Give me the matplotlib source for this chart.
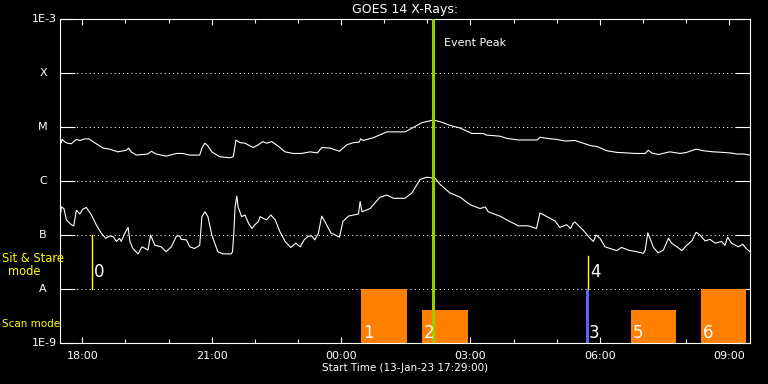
import numpy as np
import matplotlib
matplotlib.use('Agg')
import matplotlib.pyplot as plt
from matplotlib.ticker import NullLocator

# start time 13-Jan-23 17:29:00, time in hours since start
start_h = 17 + 29 / 60.

# long channel (upper curve): hours since start, log10 flux
t_hi = [0.02, 0.05, 0.12, 0.17, 0.26, 0.38, 0.46, 0.57, 0.67, 0.80, 1.00, 1.15, 1.34, 1.54, 1.59,
        1.65, 1.77, 2.04, 2.12, 2.23, 2.46, 2.70, 2.85, 3.01, 3.24, 3.29, 3.36, 3.43, 3.52, 3.70,
        3.94, 4.02, 4.08, 4.17, 4.29, 4.48, 4.60, 4.70, 4.79, 4.91, 5.02, 5.22, 5.41, 5.60, 5.80,
        5.97, 6.07, 6.26, 6.48, 6.65, 6.80, 6.94, 6.97, 7.03, 7.26, 7.58, 8.00, 8.12, 8.39, 8.66,
        8.85, 9.04, 9.28, 9.55, 9.82, 9.89, 10.20, 10.36, 10.63, 11.07, 11.13, 11.29, 11.52, 11.71,
        11.94, 12.13, 12.33, 12.45, 12.68, 12.91, 13.14, 13.33, 13.57, 13.64, 13.72, 13.87, 14.14,
        14.38, 14.53, 14.75, 14.92, 15.15, 15.38, 15.54, 15.69, 15.85, 16.00]
log_hi = [-5.30, -5.23, -5.28, -5.30, -5.31, -5.23, -5.25, -5.22, -5.22, -5.29, -5.39, -5.41, -5.46,
          -5.43, -5.39, -5.46, -5.52, -5.50, -5.45, -5.50, -5.54, -5.49, -5.49, -5.52, -5.52, -5.39,
          -5.30, -5.35, -5.46, -5.55, -5.57, -5.55, -5.24, -5.29, -5.30, -5.38, -5.33, -5.27, -5.30,
          -5.27, -5.33, -5.46, -5.49, -5.49, -5.46, -5.48, -5.38, -5.39, -5.45, -5.33, -5.29, -5.28,
          -5.22, -5.25, -5.20, -5.09, -5.09, -5.04, -4.92, -4.87, -4.91, -4.97, -5.02, -5.12, -5.12,
          -5.15, -5.17, -5.21, -5.24, -5.24, -5.19, -5.21, -5.23, -5.26, -5.25, -5.30, -5.35, -5.36,
          -5.44, -5.47, -5.48, -5.49, -5.49, -5.43, -5.48, -5.51, -5.46, -5.49, -5.47, -5.41, -5.44,
          -5.46, -5.47, -5.48, -5.50, -5.50, -5.52]

# short channel (lower curve)
t_lo = [0.02, 0.03, 0.09, 0.15, 0.26, 0.32, 0.38, 0.46, 0.53, 0.61, 0.73, 0.84, 0.96, 1.06, 1.15,
        1.23, 1.31, 1.38, 1.42, 1.50, 1.58, 1.62, 1.69, 1.81, 1.90, 1.98, 2.04, 2.10, 2.20, 2.35,
        2.46, 2.58, 2.70, 2.78, 2.81, 2.93, 3.01, 3.12, 3.24, 3.29, 3.36, 3.43, 3.52, 3.66, 3.78,
        3.97, 4.00, 4.03, 4.06, 4.10, 4.13, 4.21, 4.29, 4.37, 4.45, 4.52, 4.60, 4.64, 4.71, 4.79,
        4.89, 4.99, 5.10, 5.22, 5.35, 5.47, 5.57, 5.66, 5.76, 5.84, 5.91, 5.99, 6.07, 6.18, 6.28,
        6.38, 6.48, 6.56, 6.69, 6.92, 6.96, 7.00, 7.19, 7.42, 7.58, 7.73, 8.00, 8.16, 8.35, 8.50,
        8.70, 8.81, 9.04, 9.28, 9.51, 9.74, 9.86, 9.93, 10.20, 10.43, 10.63, 10.86, 11.05, 11.13,
        11.29, 11.48, 11.59, 11.75, 11.84, 11.90, 11.94, 12.13, 12.29, 12.37, 12.43, 12.52, 12.64,
        12.79, 12.91, 13.02, 13.18, 13.37, 13.53, 13.57, 13.63, 13.68, 13.76, 13.87, 13.99, 14.11,
        14.18, 14.31, 14.42, 14.52, 14.65, 14.75, 14.84, 14.96, 15.07, 15.19, 15.34, 15.42, 15.48,
        15.57, 15.73, 15.83, 15.91, 16.00]
log_lo = [-6.57, -6.48, -6.51, -6.72, -6.81, -6.83, -6.54, -6.61, -6.52, -6.49, -6.63, -6.81, -6.97,
          -7.06, -7.02, -7.03, -7.12, -7.06, -7.12, -6.97, -6.86, -7.12, -7.25, -7.35, -7.22, -7.25,
          -7.28, -7.00, -7.19, -7.22, -7.31, -7.22, -7.02, -7.02, -7.08, -7.09, -7.22, -7.25, -7.19,
          -6.66, -6.57, -6.66, -7.00, -7.31, -7.35, -7.35, -7.31, -6.97, -6.48, -6.28, -6.48, -6.66,
          -6.63, -6.78, -6.88, -6.81, -6.75, -6.66, -6.69, -6.72, -6.63, -6.72, -6.94, -7.12, -7.23,
          -7.15, -7.22, -7.09, -7.02, -7.02, -7.09, -6.97, -6.65, -6.81, -6.96, -7.00, -7.04, -6.75,
          -6.65, -6.61, -6.38, -6.57, -6.51, -6.30, -6.26, -6.32, -6.32, -6.22, -5.97, -5.93, -5.95,
          -6.06, -6.22, -6.30, -6.44, -6.51, -6.48, -6.57, -6.65, -6.75, -6.83, -6.83, -6.88, -6.59,
          -6.66, -6.74, -6.86, -6.81, -6.88, -6.78, -6.76, -6.91, -7.06, -7.12, -7.00, -7.06, -7.22,
          -7.26, -7.29, -7.23, -7.28, -7.31, -7.34, -7.28, -6.96, -7.06, -7.23, -7.33, -7.28, -7.06,
          -7.15, -7.22, -7.29, -7.20, -7.11, -6.95, -7.00, -7.11, -7.08, -7.15, -7.12, -7.19, -7.04,
          -7.15, -7.22, -7.17, -7.25, -7.31]

event_peak = 8.65

# observation modes: label, start, end, top flux, colour
mode_id = ['1', '2', '3', '5', '6']
mode_t0 = [6.98, 8.39, 12.20, 13.24, 14.86]
mode_t1 = [8.05, 9.46, 12.27, 14.28, 15.91]
mode_top = [1e-8, 4e-9, 1e-8, 4e-9, 1e-8]
mode_col = ['#ff8000', '#ff8000', '#6060ff', '#ff8000', '#ff8000']
sit_id = ['0', '4']
sit_t = [0.74, 12.24]
sit_top = [1e-7, 4e-8]

levels = [1e-9, 1e-8, 1e-7, 1e-6, 1e-5, 1e-4, 1e-3]
level_lab = ['1E-9', 'A', 'B', 'C', 'M', 'X', '1E-3']

plt.rcParams['font.family'] = ['DejaVu Sans']
fig = plt.figure(figsize=(7.68, 3.84), dpi=100, facecolor='black')
ax = fig.add_axes([60/768., 41/384., 690/768., 324/384.], facecolor='black')
ax.set_yscale('log')
ax.set_xlim(0, 16)
ax.set_ylim(1e-9, 1e-3)

# dotted level lines
for lv in levels[1:-1]:
    ax.axhline(lv, color='white', lw=0.75, linestyle=(0, (1, 3)), zorder=1)

ax.plot(t_hi, 10 ** np.array(log_hi), color='white', lw=0.8, zorder=3)
ax.plot(t_lo, 10 ** np.array(log_lo), color='white', lw=0.8, zorder=3)

for i in range(len(mode_id)):
    ax.fill_between([mode_t0[i], mode_t1[i]], 1e-9, mode_top[i], color=mode_col[i], lw=0, zorder=2)
    ax.text(mode_t0[i] + 0.05, 1.5e-9, mode_id[i], color='white', fontsize=12, va='center', ha='left', zorder=5)
for i in range(len(sit_id)):
    ax.plot([sit_t[i], sit_t[i]], [1e-8, sit_top[i]], color='#ffff00', lw=1.0, zorder=4)
    ax.text(sit_t[i] + 0.05, 2.07e-8, sit_id[i], color='white', fontsize=12, va='center', ha='left', zorder=5)

ax.axvline(event_peak, color='#99cc00', lw=2.2, zorder=4)
ax.text(event_peak + 0.25, 10 ** -3.44, 'Event Peak', color='white', fontsize=8, va='center', ha='left')

# ticks
first = 18 - start_h
hours = np.arange(16)
ax.set_xticks(first + hours[::3])
ax.set_xticks(first + hours, minor=True)
ax.set_xticklabels(['%02d:00' % ((18 + h) % 24) for h in hours[::3]])
ax.set_yticks(levels)
ax.set_yticklabels([])
ax.yaxis.set_minor_locator(NullLocator())
ax.tick_params(axis='x', which='major', direction='in', length=4.3, width=0.8, top=True,
               colors='white', labelsize=8, pad=6)
ax.tick_params(axis='x', which='minor', direction='in', length=2.9, width=0.8, top=True, colors='white')
ax.tick_params(axis='y', which='major', direction='in', length=10.5, width=0.8, right=True, colors='white')
for s in ax.spines.values():
    s.set_color('white')
    s.set_linewidth(0.8)

tr = ax.get_yaxis_transform()
for lv, lab in zip(levels, level_lab):
    if lab.startswith('1E'):
        ax.text(-0.0045, lv, lab, transform=tr, color='white', fontsize=8, ha='right', va='center')
    else:
        ax.text(-0.0246, lv, lab, transform=tr, color='white', fontsize=8, ha='center', va='center')

ax.text(-0.084, 10 ** -7.444, 'Sit & Stare', transform=tr, color='#ffff00', fontsize=8.3, ha='left', va='center')
ax.text(-0.0514, 10 ** -7.667, 'mode', transform=tr, color='#ffff00', fontsize=8.3, ha='center', va='center')
ax.text(-0.084, 10 ** -8.648, 'Scan mode', transform=tr, color='#ffff00', fontsize=7.5, ha='left', va='center')

ax.set_title('GOES 14 X-Rays:', color='white', fontsize=9, pad=4)
ax.set_xlabel('Start Time (13-Jan-23 17:29:00)', color='white', fontsize=7.5, labelpad=1)

fig.savefig('out.png', dpi=100, facecolor='black')
